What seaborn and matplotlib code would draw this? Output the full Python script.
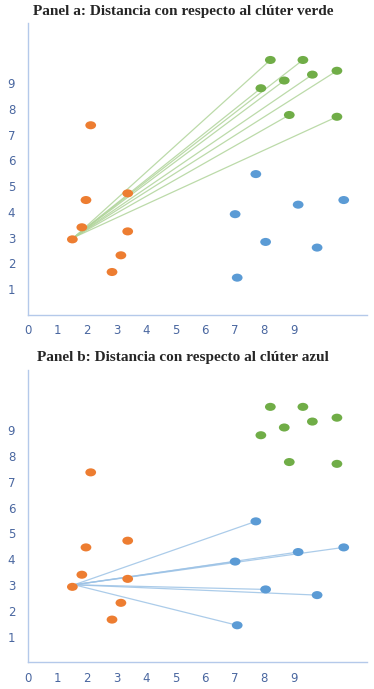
import numpy as np
import pandas as pd
import seaborn as sns
import matplotlib.pyplot as plt
from matplotlib.path import Path
from matplotlib.transforms import Affine2D

# Puntos de cada clúster
naranja_x = [1.51, 1.83, 2.13, 1.97, 3.38, 3.38, 3.15, 2.85]
naranja_y = [2.93, 3.40, 7.37, 4.46, 4.72, 3.24, 2.31, 1.66]

verde_x = [8.20, 9.30, 9.62, 10.45, 8.67, 7.88, 8.84, 10.45]
verde_y = [9.91, 9.91, 9.34, 9.49, 9.11, 8.81, 7.77, 7.70]

azul_x = [7.71, 7.01, 9.14, 10.68, 8.04, 9.78, 7.08]
azul_y = [5.47, 3.91, 4.28, 4.46, 2.83, 2.61, 1.44]

# Punto de partida de las líneas de distancia
origen = (1.57, 3.01)

titulos = ['Panel a: Distancia con respecto al clúter verde',
           'Panel b: Distancia con respecto al clúter azul']
ticks_x = [0, 1, 2, 3, 4, 5, 6, 7, 8, 9]
ticks_y = [1, 2, 3, 4, 5, 6, 7, 8, 9]

donnees = pd.DataFrame({
    'x': naranja_x + verde_x + azul_x,
    'y': naranja_y + verde_y + azul_y,
    'cluster': ['naranja'] * len(naranja_x) + ['verde'] * len(verde_x) + ['azul'] * len(azul_x),
})
colores = {'naranja': '#ED7D31', 'verde': '#70AD47', 'azul': '#5B9BD5'}

# Marcador ligeramente ovalado
ovalo = Path.unit_circle().transformed(Affine2D().scale(1.0, 0.75))

sns.set_style('white')
fig = plt.figure(figsize=(3.74, 6.89), dpi=100)

posiciones = [[0.074, 0.5433, 0.906, 0.423], [0.074, 0.0386, 0.906, 0.4244]]
destinos = [(verde_x, verde_y, '#b0d49a'), (azul_x, azul_y, '#9dc3e6')]
titulo_y = [1 - 12 / 689, 1 - 358 / 689]

for i in range(2):
    ax = fig.add_axes(posiciones[i])
    dx, dy, color_linea = destinos[i]
    for px, py in zip(dx, dy):
        ax.plot([origen[0], px], [origen[1], py], color=color_linea, lw=0.9, alpha=0.85, zorder=1)
    sns.scatterplot(data=donnees, x='x', y='y', hue='cluster', palette=colores,
                    marker=ovalo, s=60, edgecolor='none', legend=False, ax=ax, zorder=3)
    ax.set_xlim(0, 11.45)
    ax.set_ylim(0, 11.34)
    ax.set_xticks(ticks_x)
    ax.set_yticks(ticks_y)
    ax.set_xlabel('')
    ax.set_ylabel('')
    for s in ['top', 'right']:
        ax.spines[s].set_visible(False)
    for s in ['left', 'bottom']:
        ax.spines[s].set_color('#b4c9ea')
        ax.spines[s].set_linewidth(1.0)
    ax.tick_params(axis='x', direction='inout', length=6, width=1, color='#b4c9ea',
                   labelcolor='#4a67a0', labelsize=8.5, pad=4)
    ax.tick_params(axis='y', direction='in', length=4, width=1, color='#b4c9ea',
                   labelcolor='#4a67a0', labelsize=8.5, pad=9)
    fig.text(183 / 374, titulo_y[i], titulos[i], ha='center', va='center',
             family='Liberation Serif', fontweight='bold', fontsize=11)

plt.savefig('out.png', dpi=100)
